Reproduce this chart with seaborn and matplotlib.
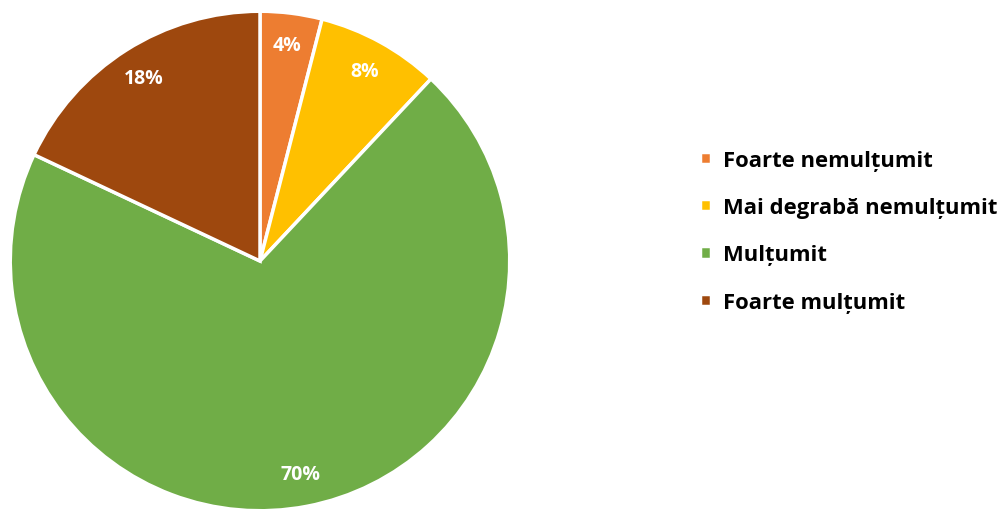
import matplotlib
matplotlib.use("Agg")
import matplotlib.pyplot as plt
import seaborn as sns

# satisfaction survey shares (%)
categories = ["Foarte nemulțumit", "Mai degrabă nemulțumit", "Mulțumit", "Foarte mulțumit"]
shares = [4, 8, 70, 18]
colors = ["#ED7D31", "#FFC000", "#70AD47", "#9E480E"]

sns.set_theme(style="white")
plt.rcParams["font.family"] = ["Open Sans", "DejaVu Sans"]

fig = plt.figure(figsize=(10, 5.1), dpi=100)
ax = fig.add_axes([0.009, -3 / 510, 0.502, 502 / 510])

wedges, texts, autotexts = ax.pie(
    shares,
    colors=colors,
    startangle=90,
    counterclock=False,
    radius=0.995,
    autopct="%d%%",
    pctdistance=0.87,
    wedgeprops=dict(edgecolor="white", linewidth=2.5),
    textprops=dict(color="white", fontweight="bold", fontsize=14),
)
ax.set_xlim(-1, 1)
ax.set_ylim(-1, 1)
ax.set_aspect("equal")

leg = fig.legend(
    wedges,
    categories,
    loc="center left",
    bbox_to_anchor=(0.68, 0.545),
    frameon=False,
    handlelength=0.5,
    handleheight=0.5,
    handletextpad=0.55,
    labelspacing=1.2,
    prop=dict(weight="bold", size=15.8),
)
for t in leg.get_texts():
    t.set_color("black")

plt.savefig("out.png", dpi=100)
plt.close()
